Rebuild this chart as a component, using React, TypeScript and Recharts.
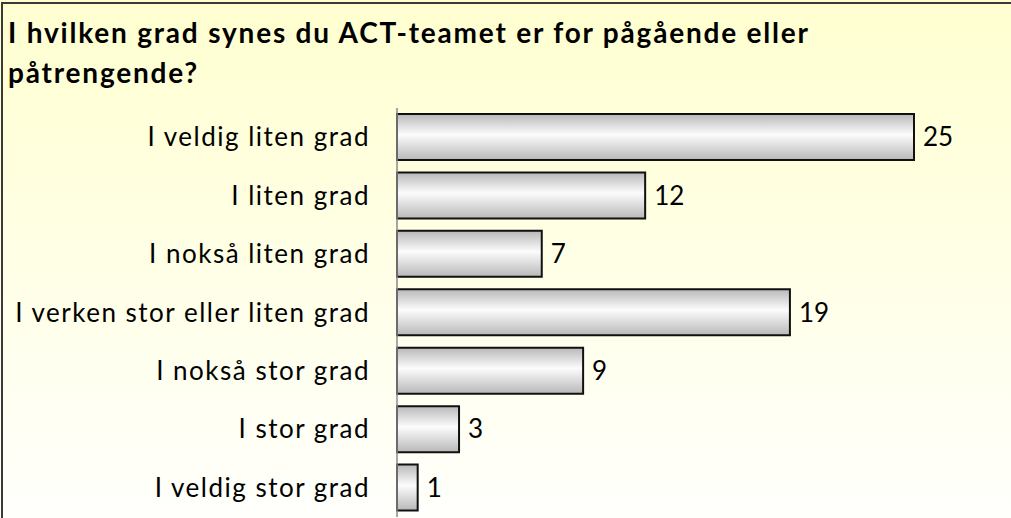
import React from "react";
import { BarChart, Bar, XAxis, YAxis, LabelList } from "recharts";

const categories = [
  "I veldig liten grad",
  "I liten grad",
  "I nokså liten grad",
  "I verken stor eller liten grad",
  "I nokså stor grad",
  "I stor grad",
  "I veldig stor grad",
];
const values = [25, 12, 7, 19, 9, 3, 1];
const titleLines = [
  "I hvilken grad synes du ACT-teamet er for pågående eller",
  "påtrengende?",
];

const data = categories.map((c, i) => ({ name: c, value: values[i] }));
const FONT = "Lato, 'Open Sans', sans-serif";

const Tick = (props: any) => {
  const { y, payload } = props;
  return (
    <text
      x={370}
      y={y}
      dy={9}
      textAnchor="end"
      fontSize={26}
      fontFamily={FONT}
      fill="#000"
      style={{ letterSpacing: "1.5px" }}
    >
      {payload.value}
    </text>
  );
};

export default function App() {
  return (
    <div
      style={{
        position: "absolute",
        left: 0,
        top: 0,
        width: 1011,
        height: 518,
        overflow: "hidden",
        background: "linear-gradient(to bottom, #FFFFD0 0%, #FFFFE6 50%, #FFFFFC 100%)",
      }}
    >
      <div
        style={{
          position: "absolute",
          left: 1,
          top: 2,
          width: 1020,
          height: 600,
          borderLeft: "2px solid #3a3a3a",
          borderTop: "2px solid #3a3a3a",
        }}
      />
      <div
        style={{
          position: "absolute",
          left: 8,
          top: 12,
          fontFamily: FONT,
          fontWeight: 700,
          fontSize: 28,
          letterSpacing: "1.8px",
          lineHeight: "40px",
          color: "#000",
          whiteSpace: "nowrap",
        }}
      >
        {titleLines.map((l, i) => (
          <div key={i}>{l}</div>
        ))}
      </div>
      <div style={{ position: "absolute", left: 0, top: 0 }}>
        <BarChart
          width={1011}
          height={518}
          data={data}
          layout="vertical"
          margin={{ top: 108, right: 97, bottom: 1, left: 0 }}
          barCategoryGap={6}
        >
          <defs>
            <linearGradient id="barGrad" x1="0" y1="0" x2="0" y2="1">
              <stop offset="0%" stopColor="#b8b8b8" />
              <stop offset="45%" stopColor="#fcfcfc" />
              <stop offset="100%" stopColor="#b8b8b8" />
            </linearGradient>
          </defs>
          <XAxis type="number" domain={[0, 25]} hide />
          <YAxis
            type="category"
            dataKey="name"
            width={397}
            axisLine={{ stroke: "#8a8a8a", strokeWidth: 1.5 }}
            tickLine={false}
            tick={<Tick />}
            interval={0}
          />
          <Bar dataKey="value" fill="url(#barGrad)" stroke="#111" strokeWidth={2} isAnimationActive={false}>
            <LabelList
              dataKey="value"
              position="right"
              offset={9}
              fontSize={26}
              fontFamily={FONT}
              fill="#000"
            />
          </Bar>
        </BarChart>
      </div>
    </div>
  );
}
